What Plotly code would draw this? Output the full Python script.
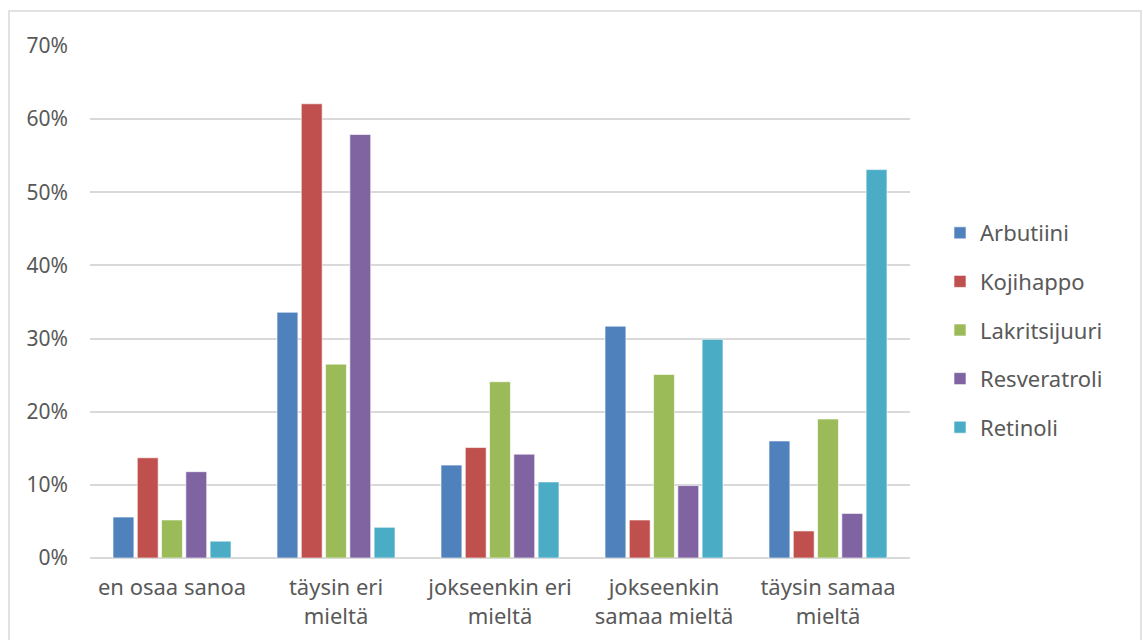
import plotly.graph_objects as go

categories = ["en osaa sanoa", "täysin eri<br>mieltä", "jokseenkin eri<br>mieltä",
              "jokseenkin<br>samaa mieltä", "täysin samaa<br>mieltä"]
series_names = ["Arbutiini", "Kojihappo", "Lakritsijuuri", "Resveratroli", "Retinoli"]
arbutiini = [0.056, 0.336, 0.127, 0.317, 0.160]
kojihappo = [0.137, 0.621, 0.151, 0.052, 0.037]
lakritsijuuri = [0.052, 0.265, 0.241, 0.251, 0.190]
resveratroli = [0.118, 0.579, 0.142, 0.099, 0.061]
retinoli = [0.023, 0.042, 0.104, 0.299, 0.531]
colors = ["#4F81BD", "#C0504D", "#9BBB59", "#8064A2", "#4BACC6"]
yticks = [0, 0.1, 0.2, 0.3, 0.4, 0.5, 0.6, 0.7]

values = [arbutiini, kojihappo, lakritsijuuri, resveratroli, retinoli]

fig = go.Figure()
for name, vals, col in zip(series_names, values, colors):
    fig.add_trace(go.Bar(
        x=categories, y=vals, name=name, legendgroup=name,
        marker=dict(color=col, line=dict(color="rgba(255,255,255,0.6)", width=1)),
    ))

L, R, T, B = 90, 233, 46, 82
W, H = 1143, 640
pw, ph = W - L - R, H - T - B

fig.update_layout(
    width=W, height=H,
    margin=dict(l=L, r=R, t=T, b=B, autoexpand=False),
    paper_bgcolor="white", plot_bgcolor="white",
    barmode="group", bargap=0.26, bargroupgap=0.14,
    font=dict(family="Noto Sans", size=22, color="#595959"),
    showlegend=True,
    legend=dict(x=(940 - L) / pw, xanchor="left", y=(558 - 330) / ph, yanchor="middle",
                font=dict(size=22, color="#595959"), tracegroupgap=17,
                itemwidth=30, bgcolor="rgba(0,0,0,0)"),
    xaxis=dict(showgrid=False, showline=False, ticks="", tickfont=dict(size=22),
               ticklabelstandoff=14, automargin=False),
    yaxis=dict(range=[0, 0.7], tickvals=yticks, tickformat=".0%", showgrid=True,
               gridcolor="#d9d9d9", gridwidth=1.5, zeroline=True, zerolinecolor="#d9d9d9",
               zerolinewidth=1.5, showline=False, ticks="", ticklabelstandoff=21,
               tickfont=dict(size=21), automargin=False),
    shapes=[dict(type="rect", xref="paper", yref="paper",
                 x0=(9 - L) / pw, x1=(1141 - L) / pw,
                 y0=(558 - 660) / ph, y1=(558 - 11) / ph,
                 line=dict(color="#d9d9d9", width=1.5), fillcolor="rgba(0,0,0,0)", layer="below")],
)

fig.write_html("out.html")
